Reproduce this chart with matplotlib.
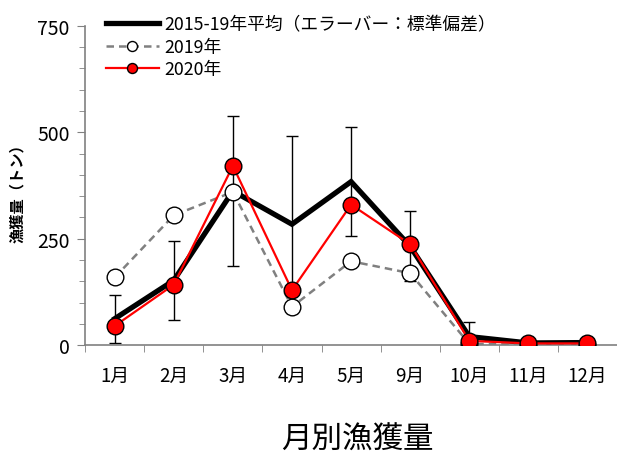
import matplotlib.pyplot as plt
import numpy as np

plt.rcParams['font.family'] = ['Noto Sans CJK JP', 'DejaVu Sans']

months = ['1月', '2月', '3月', '4月', '5月', '9月', '10月', '11月', '12月']
avg_1519 = [62, 152, 362, 284, 384, 232, 20, 5, 6]
sd_1519 = [56, 93, 177, 208, 128, 82, 34, 3, 3]
catch_2019 = [159, 305, 360, 90, 197, 169, 3, 1, 1]
catch_2020 = [45, 142, 421, 129, 330, 237, 10, 4, 4]

x = np.arange(len(months))

fig = plt.figure(figsize=(6.17, 4.56), dpi=100)
ax = fig.add_axes([0.138, 0.241, 0.862, 0.70])

# 平均（太線）と標準偏差のエラーバー
ax.errorbar(x, avg_1519, yerr=sd_1519, fmt='none', ecolor='black',
            elinewidth=1, capsize=4, capthick=1, zorder=1)
ax.plot(x, avg_1519, color='black', lw=3.8, solid_joinstyle='miter',
        label='2015-19年平均（エラーバー：標準偏差）', zorder=2)
ax.plot(x, catch_2019, color='gray', lw=1.8, ls=(0, (3, 2)),
        marker='o', ms=12, mfc='white', mec='black', mew=1,
        label='2019年', zorder=3)
ax.plot(x, catch_2020, color='red', lw=1.6,
        marker='o', ms=12, mfc='red', mec='black', mew=1,
        label='2020年', zorder=4)

ax.set_xlim(-0.5, len(months) - 0.5)
ax.set_ylim(0, 750)
ax.set_yticks([0, 250, 500, 750])
ax.set_yticks(np.arange(0, 751, 50), minor=True)
ax.set_xticks(x)
ax.set_xticklabels(months)
ax.set_xticks(np.arange(-0.5, len(months), 1), minor=True)
ax.tick_params(axis='x', which='major', length=0, pad=14, labelsize=13.5)
ax.tick_params(axis='x', which='minor', length=5, color='gray', direction='out')
ax.tick_params(axis='y', which='major', length=6, color='gray', labelsize=14,
               direction='out', pad=5)
ax.tick_params(axis='y', which='minor', length=4, color='gray', direction='out')

for s in ['top', 'right']:
    ax.spines[s].set_visible(False)
for s in ['left', 'bottom']:
    ax.spines[s].set_color('gray')
    ax.spines[s].set_linewidth(1.2)

ax.set_ylabel('漁獲量（トン）', fontsize=11, fontweight='bold')
ax.yaxis.set_label_coords(-0.113, 0.49)

leg = ax.legend(loc='upper left', bbox_to_anchor=(0.025, 1.055), frameon=False,
                fontsize=12.8, handlelength=3.0, handletextpad=0.3,
                labelspacing=0.25, borderaxespad=0, markerscale=0.6)

fig.text(0.58, 0.035, '月別漁獲量', ha='center', va='center', fontsize=22)

fig.savefig('out.png', dpi=100)
